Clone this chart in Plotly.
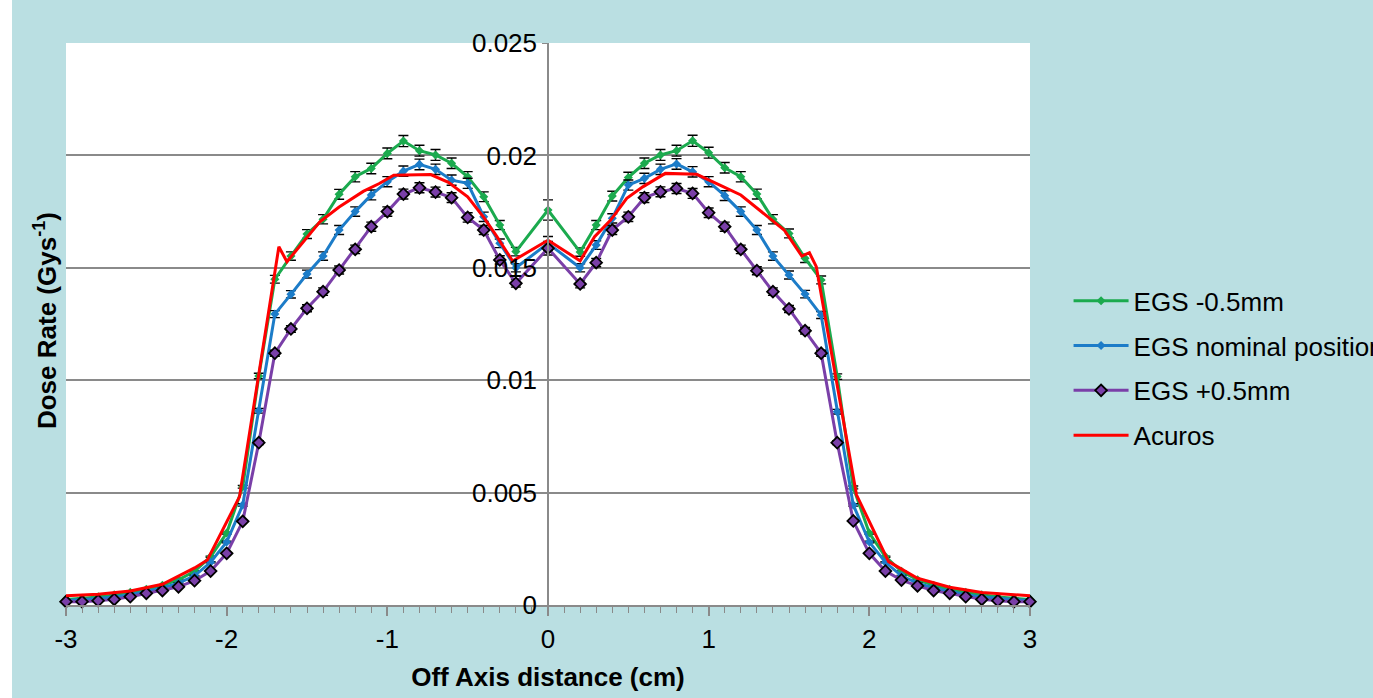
import plotly.graph_objects as go

# ---------------- data ----------------
x_egs = [-3.0, -2.9, -2.8, -2.7, -2.6, -2.5, -2.4, -2.3, -2.2, -2.1, -2.0, -1.9, -1.8, -1.7, -1.6,
         -1.5, -1.4, -1.3, -1.2, -1.1, -1.0, -0.9, -0.8, -0.7, -0.6, -0.5, -0.4, -0.3, -0.2,
         0.0,
         0.2, 0.3, 0.4, 0.5, 0.6, 0.7, 0.8, 0.9, 1.0, 1.1, 1.2, 1.3, 1.4, 1.5, 1.6,
         1.7, 1.8, 1.9, 2.0, 2.1, 2.2, 2.3, 2.4, 2.5, 2.6, 2.7, 2.8, 2.9, 3.0]

egs_minus = [0.00025, 0.00030, 0.00036, 0.00045, 0.00056, 0.00070, 0.00088, 0.00112, 0.00150, 0.00215,
             0.00320, 0.00526, 0.01019, 0.01449, 0.01552, 0.01650, 0.01716, 0.01827, 0.01905, 0.01942,
             0.02009, 0.02064, 0.02021, 0.02002, 0.01965, 0.01905, 0.01816, 0.01690, 0.01572,
             0.01757,
             0.01570, 0.01690, 0.01819, 0.01902, 0.01965, 0.02002, 0.02021, 0.02065, 0.02012, 0.01945,
             0.01905, 0.01828, 0.01716, 0.01653, 0.01542, 0.01446, 0.01016, 0.00523, 0.00320, 0.00215,
             0.00150, 0.00112, 0.00088, 0.00070, 0.00056, 0.00045, 0.00036, 0.00030, 0.00025]

egs_nominal = [0.00020, 0.00024, 0.00029, 0.00036, 0.00046, 0.00060, 0.00076, 0.00097, 0.00130, 0.00190,
               0.00280, 0.00445, 0.00864, 0.01294, 0.01382, 0.01472, 0.01552, 0.01668, 0.01750, 0.01824,
               0.01883, 0.01930, 0.01960, 0.01938, 0.01890, 0.01876, 0.01727, 0.01609, 0.01500,
               0.01609,
               0.01500, 0.01601, 0.01720, 0.01868, 0.01898, 0.01938, 0.01962, 0.01927, 0.01883, 0.01821,
               0.01750, 0.01668, 0.01552, 0.01468, 0.01383, 0.01290, 0.00860, 0.00445, 0.00280, 0.00190,
               0.00130, 0.00097, 0.00076, 0.00060, 0.00046, 0.00036, 0.00029, 0.00024, 0.00020]

egs_plus = [0.00015, 0.00015, 0.00019, 0.00025, 0.00037, 0.00052, 0.00064, 0.00081, 0.00108, 0.00151,
            0.00230, 0.00372, 0.00722, 0.01120, 0.01228, 0.01320, 0.01394, 0.01490, 0.01582, 0.01683,
            0.01750, 0.01828, 0.01856, 0.01837, 0.01812, 0.01724, 0.01668, 0.01535, 0.01431,
            0.01587,
            0.01428, 0.01523, 0.01668, 0.01727, 0.01812, 0.01838, 0.01853, 0.01831, 0.01745, 0.01683,
            0.01582, 0.01487, 0.01394, 0.01317, 0.01220, 0.01120, 0.00722, 0.00374, 0.00230, 0.00151,
            0.00111, 0.00085, 0.00064, 0.00052, 0.00037, 0.00025, 0.00019, 0.00015, 0.00015]

x_acuros = [-3.0, -2.8, -2.6, -2.4, -2.2, -2.12, -1.92, -1.675, -1.625, -1.42, -1.3, -1.15, -1.05,
            -0.96, -0.73, -0.62, -0.5, -0.4, -0.32, -0.22, 0.0, 0.2, 0.29, 0.39, 0.49, 0.59, 0.73,
            0.925, 1.07, 1.2, 1.38, 1.47, 1.58, 1.627, 1.67, 1.92, 2.12, 2.3, 2.5, 2.7, 3.0]
acuros = [0.00041, 0.00048, 0.00062, 0.00092, 0.00165, 0.00200, 0.00482, 0.01594, 0.01527, 0.01705,
          0.01770, 0.01840, 0.01875, 0.01912, 0.01915, 0.01880, 0.01816, 0.01724, 0.01641, 0.01530,
          0.01623, 0.01531, 0.01638, 0.01712, 0.01809, 0.01860, 0.01920, 0.01916, 0.01868, 0.01824,
          0.01720, 0.01668, 0.01552, 0.01567, 0.01505, 0.00490, 0.00193, 0.00119, 0.00079, 0.00056,
          0.00041]

# error bars: relative uncertainty (%) and larger uncertainty at the central point
rel_err_pct = 1.2
center_err = {"EGS -0.5mm": 0.00045, "EGS nominal position": 0.00030, "EGS +0.5mm": 0.00030}

x_ticks = [-3, -2, -1, 0, 1, 2, 3]
y_ticks = [0, 0.005, 0.01, 0.015, 0.02, 0.025]
y_ticktext = ["0", "0.005", "0.01", "0.015", "0.02", "0.025"]

# ---------------- styling ----------------
BG = "#BADFE2"
GRID = "#8A8A8A"
FONT = "Liberation Sans, Arial, sans-serif"
FS = 26

fig = go.Figure()

series = [
    ("EGS -0.5mm", egs_minus, "#1BAA4E", dict(symbol="diamond", size=7, color="#1BAA4E", line=dict(width=0))),
    ("EGS nominal position", egs_nominal, "#1C7CC8", dict(symbol="diamond", size=7, color="#1C7CC8", line=dict(width=0))),
    ("EGS +0.5mm", egs_plus, "#7A3FA8", dict(symbol="diamond", size=9, color="#7A3FA8", line=dict(width=1.8, color="#000000"))),
]

for i, (name, vals, col, mk) in enumerate(series):
    errs = [center_err[name] if x == 0.0 else v * rel_err_pct / 100 for x, v in zip(x_egs, vals)]
    fig.add_trace(go.Scatter(
        x=x_egs, y=vals, name=name, mode="lines+markers",
        line=dict(color=col, width=3),
        marker=mk,
        error_y=dict(type="data", array=errs, color="#000000", thickness=1.4, width=5),
        cliponaxis=False,
        legendgroup=f"g{i}",
    ))

fig.add_trace(go.Scatter(
    x=x_acuros, y=acuros, name="Acuros", mode="lines",
    line=dict(color="#FF0000", width=3),
    cliponaxis=False,
    legendgroup="g3",
))

fig.update_layout(
    width=1373, height=698,
    paper_bgcolor=BG, plot_bgcolor="#FFFFFF",
    margin=dict(l=66, r=343, t=43, b=93, autoexpand=False),
    font=dict(family=FONT, size=FS, color="#000000"),
    showlegend=True,
    legend=dict(
        x=1.04, y=0.583, xanchor="left", yanchor="top",
        bgcolor="rgba(0,0,0,0)", font=dict(size=FS, color="#000000"),
        traceorder="grouped", tracegroupgap=8, itemwidth=55,
    ),
    xaxis=dict(
        range=[-3, 3], tickvals=x_ticks, ticktext=[str(v) for v in x_ticks],
        showgrid=False, zeroline=False,
        showline=True, linecolor=GRID, linewidth=1.5,
        ticks="outside", ticklen=9, tickcolor=GRID, tickwidth=1.5,
        minor=dict(dtick=0.1, ticks="outside", ticklen=6, tickcolor=GRID, tickwidth=1, showgrid=False),
        ticklabelstandoff=1,
        tickfont=dict(size=FS),
        title=dict(text="<b>Off Axis distance (cm)</b>", font=dict(size=FS), standoff=15),
        automargin=False,
    ),
    yaxis=dict(
        range=[0, 0.025], tickvals=y_ticks, ticktext=y_ticktext,
        anchor="free", position=0.5,
        showgrid=True, gridcolor=GRID, gridwidth=1.5,
        zeroline=False,
        showline=True, linecolor=GRID, linewidth=1.5,
        ticks="outside", ticklen=5, tickcolor=GRID,
        tickfont=dict(size=FS),
        automargin=False,
    ),
    annotations=[dict(
        text="<b>Dose Rate (Gys<sup>-1</sup>)</b>",
        xref="paper", yref="paper", x=-0.0218, y=0.507,
        textangle=-90, showarrow=False, font=dict(size=FS),
        xanchor="center", yanchor="middle",
    )],
    shapes=[dict(
        type="rect", xref="paper", yref="paper",
        x0=-0.07, x1=-0.056, y0=-0.2, y1=1.1,
        fillcolor="#FFFFFF", line=dict(width=0), layer="below",
    )],
)

fig.write_html(
    "out.html",
    config={"displayModeBar": False},
    post_script="document.body.style.margin='0';document.body.style.overflow='hidden';",
)
